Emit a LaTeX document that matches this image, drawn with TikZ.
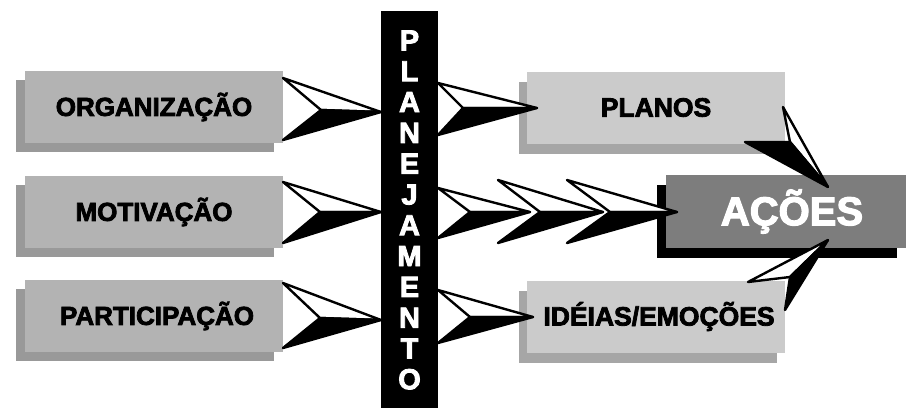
\documentclass[tikz,border=0pt]{standalone}
\usepackage{fontspec}
\newfontfamily\heavy{Liberation Sans Bold}[FakeBold=3]
\usetikzlibrary{shadows}
\definecolor{lfront}{HTML}{B3B3B3}
\definecolor{lshadow}{HTML}{999999}
\definecolor{rfront}{HTML}{CBCBCB}
\definecolor{rshadow}{HTML}{A6A6A6}
\definecolor{afront}{HTML}{7D7D7D}
\tikzset{
  basebox/.style={inner sep=0pt, minimum width=258pt, minimum height=72pt},
  lbox/.style={basebox, fill=lfront, font=\heavy\fontsize{26}{26}\selectfont,
    drop shadow={shadow xshift=-9pt, shadow yshift=-9pt, opacity=1, fill=lshadow}},
  rbox/.style={basebox, fill=rfront, font=\heavy\fontsize{26.5}{26.5}\selectfont,
    drop shadow={shadow xshift=-8pt, shadow yshift=-10pt, opacity=1, fill=rshadow}},
  abox/.style={inner sep=0pt, minimum width=240pt, minimum height=73pt, fill=afront,
    text=white, font=\heavy\fontsize{40}{40}\selectfont,
    drop shadow={shadow xshift=-9pt, shadow yshift=-10pt, opacity=1, fill=black}},
  barbox/.style={fill=black, inner sep=0pt, minimum width=57pt, minimum height=398pt,
    text=white, align=center, font=\heavy\fontsize{29}{30.8}\selectfont},
  facet/.style={line width=2.4pt, line join=round},
}
\newcommand\facetarrow[4]{%
  \filldraw[facet, fill=white] #1 -- #3 -- #2 -- cycle;
  \filldraw[facet, fill=black] #2 -- #3 -- #4 -- cycle;}
\begin{document}
\begin{tikzpicture}[x=1pt,y=-1pt]
\useasboundingbox (0,0) rectangle (910,407);
\fill[white] (0,0) rectangle (910,407);
% bar
\node[barbox] (bar) at (409.5,210) {P\\L\\A\\N\\E\\J\\A\\M\\E\\N\\T\\O};
% left boxes
\node[lbox] (org)  at (154,107) {ORGANIZAÇÃO};
\node[lbox] (mot)  at (154,212) {MOTIVAÇÃO};
\node[lbox] (part) at (154,316) {\hspace{6pt}PARTICIPAÇÃO};
% right boxes
\node[rbox] (planos) at (656,107.5) {PLANOS};
\node[rbox] (ideias) at (656,316.5) {\hspace{6pt}IDÉIAS/EMOÇÕES};
\node[abox] (acoes)  at (786,211.5) {\hspace{12pt}AÇÕES};
% arrows into the bar
\facetarrow{(283,78)}{(321,110)}{(381,112)}{(283,140)}
\facetarrow{(283,182)}{(320,212)}{(381,212)}{(283,243)}
\facetarrow{(283,283)}{(320,318)}{(381,320)}{(283,348)}
% arrows out of the bar
\facetarrow{(438,83)}{(463,108)}{(537,108)}{(438,135)}
\facetarrow{(438,188)}{(470,212)}{(530,212)}{(438,238)}
\facetarrow{(498,180)}{(540,212)}{(603,212)}{(498,243)}
\facetarrow{(567,180)}{(610,212)}{(677,212)}{(567,243)}
\facetarrow{(438,290)}{(470,317)}{(533,317)}{(438,343)}
% arrows into ACOES
\facetarrow{(783,107)}{(790,142)}{(828,187)}{(745,142)}
\facetarrow{(748,282)}{(790,277)}{(828,240)}{(785,310)}
\end{tikzpicture}
\end{document}
